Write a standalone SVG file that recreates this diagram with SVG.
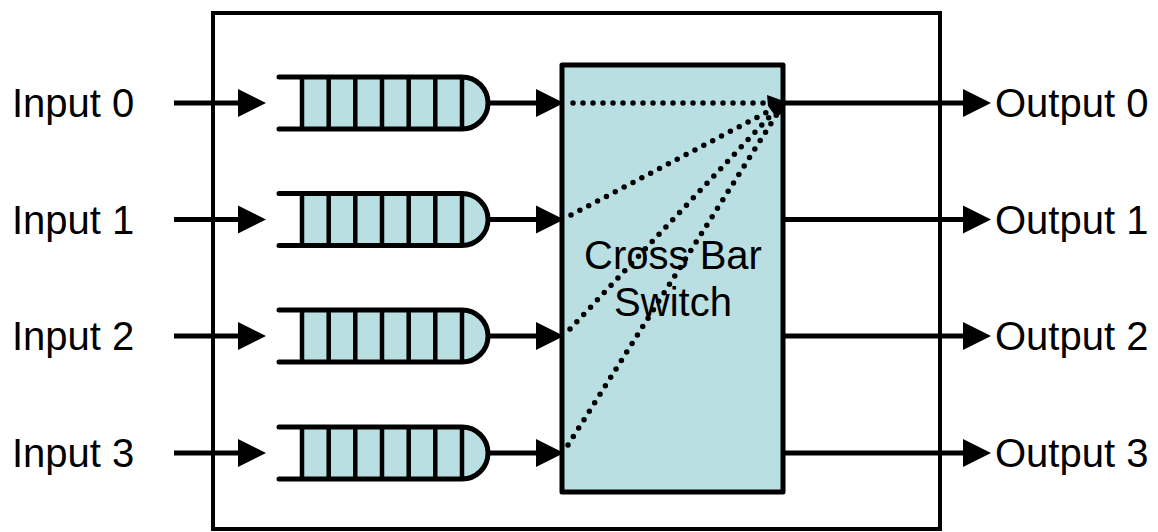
<svg xmlns="http://www.w3.org/2000/svg" width="1158" height="532" viewBox="0 0 1158 532">
<style>
.txt{font-family:"Liberation Sans",Arial,sans-serif;font-size:40px;fill:#000}
.ln{stroke:#000;stroke-width:5;fill:none}
.q{stroke:#000;stroke-width:5;fill:none;stroke-linecap:round}
.cell{fill:#b9dfe3;stroke:none}
.div{stroke:#000;stroke-width:4.5}
.dot{stroke:#000;stroke-width:5.5;fill:none;stroke-linecap:round;stroke-dasharray:0 10}
.ah{fill:#000}
</style>
<defs>
<g id="queue">
<path class="cell" d="M302,-26 H462 A26,26 0 0 1 462,26 H302 Z"/>
<path class="div" d="M302,-26 V26 M328.7,-26 V26 M355.3,-26 V26 M382,-26 V26 M408.7,-26 V26 M435.3,-26 V26 M462,-26 V26"/>
<path class="q" d="M279,-26 H462 A26,26 0 0 1 462,26 H279"/>
</g>
</defs>
<rect id="frame" x="213" y="13" width="727" height="516" fill="none" stroke="#000" stroke-width="4"/>
<g id="crossbar">
<rect x="562" y="65" width="221" height="427" fill="#b9dfe3" stroke="#000" stroke-width="5" stroke-linejoin="round"/>
<text class="txt" x="673" y="269" text-anchor="middle">Cross Bar</text>
<text class="txt" x="673" y="316" text-anchor="middle">Switch</text>
</g>
<g id="queue0"><use href="#queue" transform="translate(0,103)"/></g>
<g id="queue1"><use href="#queue" transform="translate(0,219.5)"/></g>
<g id="queue2"><use href="#queue" transform="translate(0,336)"/></g>
<g id="queue3"><use href="#queue" transform="translate(0,453)"/></g>
<g id="input0"><text class="txt" x="12" y="117">Input 0</text></g>
<g id="input1"><text class="txt" x="12" y="233.5">Input 1</text></g>
<g id="input2"><text class="txt" x="12" y="350">Input 2</text></g>
<g id="input3"><text class="txt" x="12" y="467">Input 3</text></g>
<g id="output0"><text class="txt" x="995" y="117">Output 0</text></g>
<g id="output1"><text class="txt" x="995" y="233.5">Output 1</text></g>
<g id="output2"><text class="txt" x="995" y="350">Output 2</text></g>
<g id="output3"><text class="txt" x="995" y="467">Output 3</text></g>
<g id="connectors">
<path class="ln" d="M174,103 H245 M487,103 H542 M783,103 H970"/>
<path class="ln" d="M174,219.5 H245 M487,219.5 H542 M783,219.5 H970"/>
<path class="ln" d="M174,336 H245 M487,336 H542 M783,336 H970"/>
<path class="ln" d="M174,453 H245 M487,453 H542 M783,453 H970"/>
<g class="ah">
<polygon points="238,89 266,103 238,117"/>
<polygon points="536,89 564,103 536,117"/>
<polygon points="963,89 991,103 963,117"/>
<polygon points="238,205.5 266,219.5 238,233.5"/>
<polygon points="536,205.5 564,219.5 536,233.5"/>
<polygon points="963,205.5 991,219.5 963,233.5"/>
<polygon points="238,322 266,336 238,350"/>
<polygon points="536,322 564,336 536,350"/>
<polygon points="963,322 991,336 963,350"/>
<polygon points="238,439 266,453 238,467"/>
<polygon points="536,439 564,453 536,467"/>
<polygon points="963,439 991,453 963,467"/>
</g>
<path class="dot" d="M573,103 L765,103"/>
<path class="dot" d="M571,215 L771,110"/>
<path class="dot" d="M570,329 L774,112"/>
<path class="dot" d="M568,445 L777,114"/>
<path class="ah" d="M767,95 L781,100 L781,114 L776,117 Q771,110 768,106 Z"/>
</g>
</svg>
